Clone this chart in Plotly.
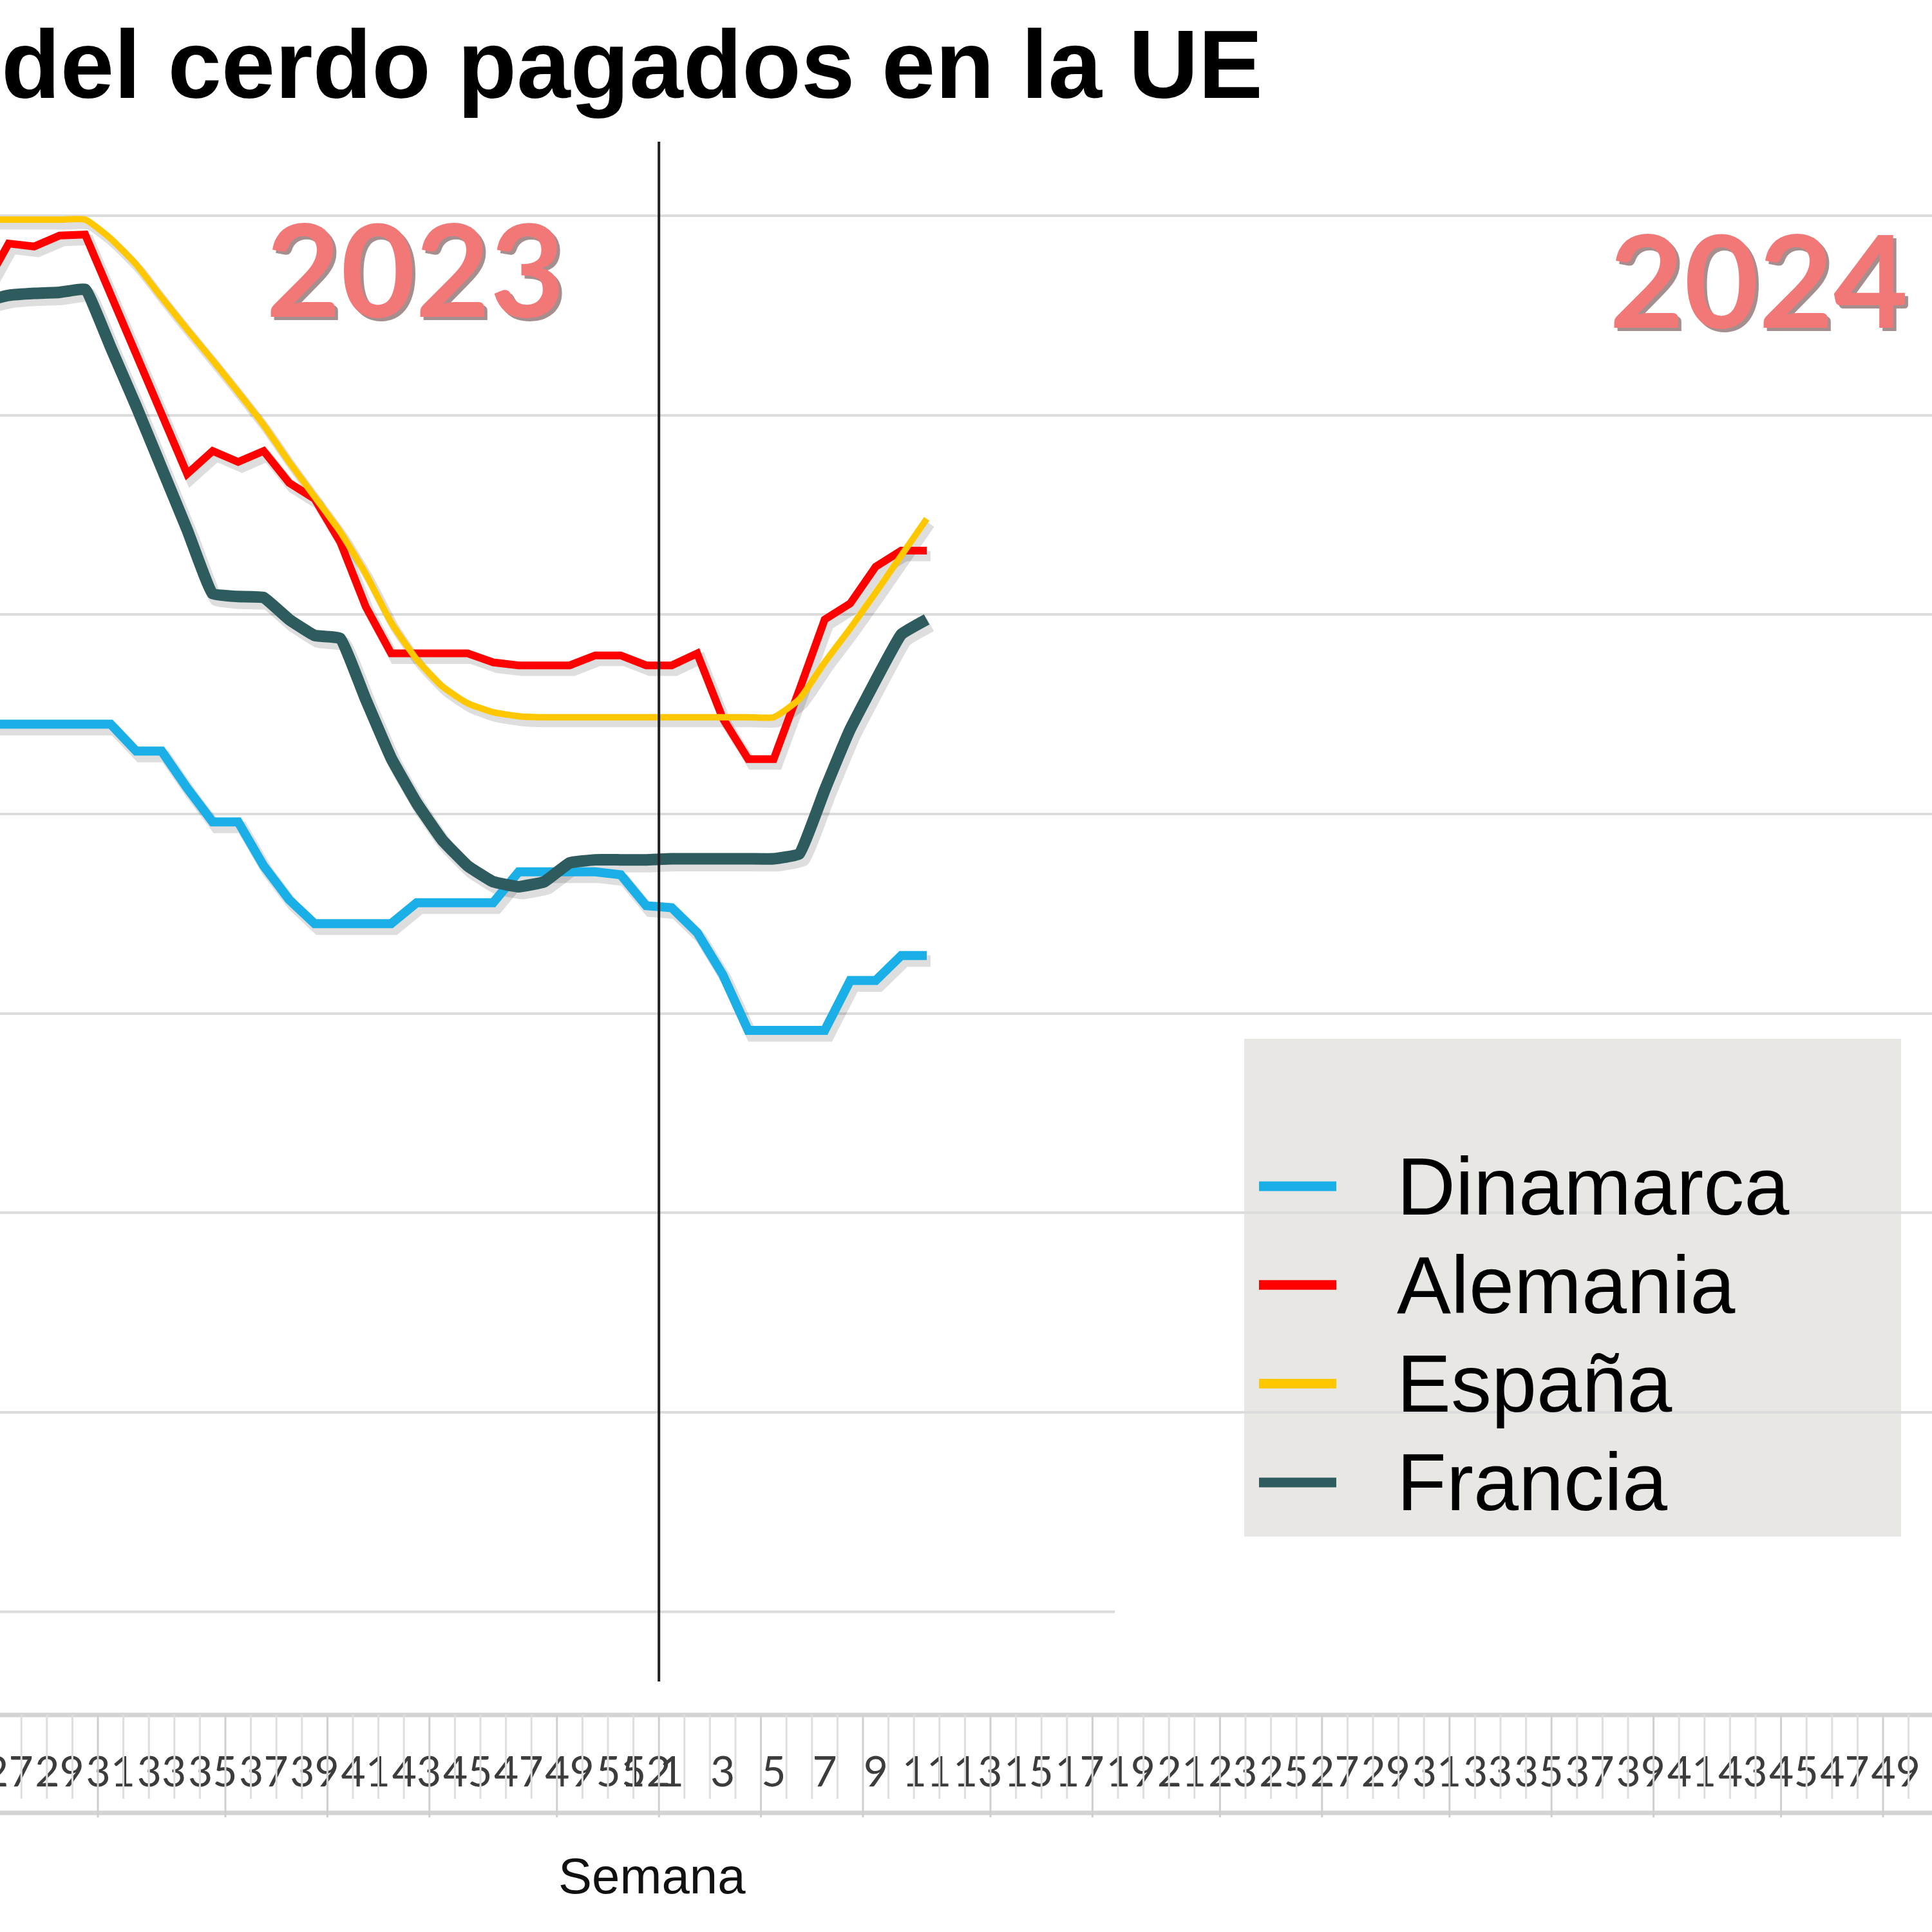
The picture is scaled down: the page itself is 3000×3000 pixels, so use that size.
import plotly.graph_objects as go

# ---------------- data ----------------
weeks_2023 = list(range(26, 53))   # ISO weeks 26..52 of 2023
weeks_2024 = list(range(1, 12))    # ISO weeks 1..11 of 2024

dinamarca = [2.090, 2.090, 2.090, 2.090, 2.090, 2.090,
             2.063, 2.063, 2.026, 1.992, 1.992, 1.948, 1.914,
             1.890, 1.890, 1.890, 1.890,
             1.911, 1.911, 1.911, 1.911,
             1.942, 1.942, 1.942, 1.942, 1.939, 1.908,
             1.906, 1.881, 1.839, 1.783, 1.783, 1.783, 1.783, 1.833, 1.833, 1.858, 1.858]

alemania = [2.526, 2.572, 2.569, 2.580, 2.581, 2.520, 2.458, 2.399, 2.341, 2.364,
            2.353, 2.364, 2.332, 2.316, 2.273, 2.208, 2.161, 2.161, 2.161, 2.161,
            2.152, 2.149, 2.149, 2.149, 2.159, 2.159, 2.149,
            2.149, 2.161, 2.096, 2.055, 2.055, 2.124, 2.195, 2.211, 2.248, 2.264, 2.264]

espana = [2.596, 2.596, 2.596, 2.596, 2.596, 2.577, 2.551, 2.518, 2.486, 2.455,
          2.423, 2.390, 2.353, 2.318, 2.283, 2.241, 2.192, 2.155, 2.128, 2.111,
          2.102, 2.098, 2.097, 2.097, 2.097, 2.097, 2.097,
          2.097, 2.097, 2.097, 2.097, 2.097, 2.115, 2.152, 2.186, 2.222, 2.259, 2.296]

francia = [2.514, 2.520, 2.522, 2.523, 2.526, 2.468, 2.409, 2.347, 2.285, 2.221,
           2.218, 2.217, 2.195, 2.179, 2.176, 2.115, 2.056, 2.011, 1.974, 1.948,
           1.932, 1.927, 1.932, 1.951, 1.954, 1.954, 1.954,
           1.955, 1.955, 1.955, 1.955, 1.955, 1.960, 2.024, 2.085, 2.134, 2.180, 2.195]

series_names = ["Dinamarca", "Alemania", "España", "Francia"]
series_values = [dinamarca, alemania, espana, francia]
series_colors = ["#1BAFE7", "#FF0000", "#FFC700", "#2E5B5E"]
series_widths = [14, 12, 10, 18]
series_shapes = ["linear", "linear", "spline", "spline"]
series_smooth = [0, 0, 0.5, 0.3]

tick_weeks_2023 = list(range(27, 52, 2)) + [52]
tick_weeks_2024 = list(range(1, 52, 2))
month_boundaries_2023 = [30, 35, 39, 43, 48, 52]          # last week of each month
month_boundaries_2024 = [4, 8, 13, 17, 22, 26, 31, 35, 39, 44, 48]

gridline_values = [1.2, 1.4, 1.6, 1.8, 2.0, 2.2, 2.4, 2.6]

title_text = "del cerdo pagados en la UE"
x_title = "Semana"
year_labels = ["2023", "2024"]

# ---------------- build ----------------
offset_2024 = weeks_2023[-1]
x_vals = weeks_2023 + [offset_2024 + w for w in weeks_2024]
tickvals = tick_weeks_2023 + [offset_2024 + w for w in tick_weeks_2024]
ticktext = [str(w) for w in tick_weeks_2023] + [str(w) for w in tick_weeks_2024]

W, H = 3000, 3000
M_T, M_B = 200, 337
PLOT_H = H - M_T - M_B


def py(y_px):
    """pixel row -> paper y"""
    return (H - M_B - y_px) / PLOT_H


fig = go.Figure()

# soft drop shadows
for vals, w, shp, sm in zip(series_values, series_widths, series_shapes, series_smooth):
    fig.add_trace(go.Scatter(
        x=[x + 0.15 for x in x_vals], y=[v - 0.0055 for v in vals],
        mode="lines", line=dict(color="rgba(0,0,0,0.13)", width=w + 4, shape=shp,
                                smoothing=sm if shp == "spline" else None),
        hoverinfo="skip", showlegend=False))

for name, vals, col, w, shp, sm in zip(series_names, series_values, series_colors,
                                       series_widths, series_shapes, series_smooth):
    fig.add_trace(go.Scatter(
        x=x_vals, y=vals, name=name, mode="lines",
        line=dict(color=col, width=w, shape=shp, smoothing=sm if shp == "spline" else None),
        showlegend=False))

shapes = []
# partial lowest gridline
shapes.append(dict(type="line", xref="paper", yref="y", x0=0, x1=0.577,
                   y0=gridline_values[0], y1=gridline_values[0],
                   line=dict(color="#DCDCDC", width=4), layer="below"))
# year separator
sep_x = weeks_2023[-1] + 0.5
shapes.append(dict(type="line", xref="x", yref="paper", x0=sep_x, x1=sep_x,
                   y0=py(2611), y1=py(220), line=dict(color="#1E1E1E", width=4)))
# category axis band
shapes.append(dict(type="line", xref="paper", yref="paper", x0=0, x1=1, y0=py(2663), y1=py(2663),
                   line=dict(color="#D4D4D4", width=7)))
shapes.append(dict(type="line", xref="paper", yref="paper", x0=0, x1=1, y0=py(2815), y1=py(2815),
                   line=dict(color="#D4D4D4", width=7)))
long_b = set(month_boundaries_2023 + [offset_2024 + m for m in month_boundaries_2024])
for xv in range(weeks_2023[0], offset_2024 + 52):
    b = xv + 0.5
    is_long = xv in long_b
    shapes.append(dict(type="line", xref="x", yref="paper", x0=b, x1=b,
                       y0=py(2663), y1=py(2822 if is_long else 2793),
                       line=dict(color="#CFCFCF" if is_long else "#DEDEDE", width=3)))
# legend box
shapes.append(dict(type="rect", xref="paper", yref="paper",
                   x0=1932 / W, x1=2952 / W, y0=py(2386), y1=py(1613),
                   fillcolor="#E9E7E4", line=dict(width=0), layer="below"))

annotations = []
for i, (name, col) in enumerate(zip(series_names, series_colors)):
    yy = 1842 + i * 153.3
    shapes.append(dict(type="line", xref="paper", yref="paper", x0=1955 / W, x1=2075 / W,
                       y0=py(yy), y1=py(yy), line=dict(color=col, width=15)))
    annotations.append(dict(xref="paper", yref="paper", x=2167 / W, y=py(yy),
                            xanchor="left", yanchor="middle", text=name, showarrow=False,
                            font=dict(family="Liberation Sans, Arial", size=126, color="#000000")))

# title (cropped in the original)
annotations.append(dict(xref="paper", yref="paper", x=0, y=py(100), xanchor="left", yanchor="middle",
                        text="<b>" + title_text + "</b>", showarrow=False,
                        font=dict(family="Liberation Sans, Arial", size=150, color="#000000")))
# x axis title
annotations.append(dict(xref="paper", yref="paper", x=1012 / W, y=py(2913), xanchor="center", yanchor="middle",
                        text=x_title, showarrow=False,
                        font=dict(family="Liberation Sans, Arial", size=78, color="#111111")))
# year labels with shadow
for txt, cx, cy in zip(year_labels, [645, 2731], [415, 432]):
    annotations.append(dict(xref="paper", yref="paper", x=cx / W, y=py(cy), xanchor="center", yanchor="middle",
                            text="<b>" + txt + "</b>", showarrow=False, xshift=5, yshift=-5,
                            font=dict(family="Lato", size=200, color="rgba(90,50,50,0.55)")))
    annotations.append(dict(xref="paper", yref="paper", x=cx / W, y=py(cy), xanchor="center", yanchor="middle",
                            text="<b>" + txt + "</b>", showarrow=False,
                            font=dict(family="Lato", size=200, color="#F27878")))

x_lo = 53 - 1043 / 39.6
x_hi = 53 + (W - 1043) / 39.6
y_per_px = 0.2 / 309.7
y_top = 2.6 + (334.8 - M_T) * y_per_px
y_bot = 2.6 - (H - M_B - 334.8) * y_per_px

fig.update_layout(
    template="none",
    width=W, height=H,
    margin=dict(l=0, r=0, t=M_T, b=M_B, pad=0, autoexpand=False),
    paper_bgcolor="white", plot_bgcolor="white",
    showlegend=False,
    shapes=shapes, annotations=annotations,
    xaxis=dict(range=[x_lo, x_hi], tickmode="array", tickvals=tickvals, ticktext=ticktext,
               tickangle=0, ticklabeloverflow="allow",
               showgrid=False, zeroline=False, showline=False, ticks="", automargin=False,
               ticklabelstandoff=44,
               tickfont=dict(family="Lato", size=66, color="#3C3C3C")),
    yaxis=dict(range=[y_bot, y_top], tickmode="array", tickvals=gridline_values[1:],
               showgrid=True, gridcolor="#DCDCDC", gridwidth=4, showticklabels=False,
               zeroline=False, showline=False, ticks="", automargin=False),
)

fig.write_html("out.html")
